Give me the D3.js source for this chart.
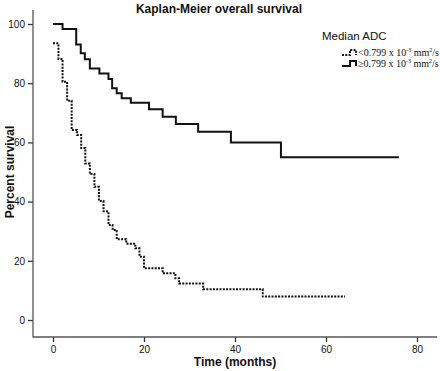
<!DOCTYPE html>
<html>
<head>
<meta charset="utf-8">
<script src="https://cdn.jsdelivr.net/npm/d3@7"></script>
<style>
  body { margin: 0; background: #fff; }
  text { font-family: "Liberation Sans", Arial, sans-serif; fill: #111; }
  .serif { font-family: "Liberation Serif", "Times New Roman", serif; }
</style>
</head>
<body>
<div id="chart"></div>
<script>
// survival steps (months, percent)
const lowTimes  = [0, 1.2, 2.1, 3.1, 4.1, 5.3, 6.2, 7.1, 8.1, 9.1, 10.1, 11.1, 12.2, 13.1, 14.0, 16.1, 18.1, 19.0, 20.0, 24.1, 26.9, 27.7, 33.0, 46.1];
const lowValues = [93.5, 88.2, 80.5, 74.1, 64.2, 62.5, 58.1, 52.9, 49.3, 45.0, 40.2, 36.7, 32.1, 30.4, 27.3, 25.8, 24.2, 21.4, 17.5, 15.8, 14.1, 12.3, 10.4, 7.9];
const lowEnd = 64.2;

const highTimes  = [0, 2.1, 5.1, 6.1, 7.0, 8.1, 10.2, 12.2, 13.0, 14.0, 15.1, 17.1, 21.1, 24.1, 27.0, 31.9, 39.1, 50.1];
const highValues = [100, 98.3, 93.1, 90.1, 88.1, 85.0, 83.3, 81.4, 78.3, 76.6, 74.9, 73.4, 71.2, 68.7, 66.2, 63.6, 60.0, 55.0];
const highEnd = 76;

const xTicks = [0, 20, 40, 60, 80];
const yTicks = [0, 20, 40, 60, 80, 100];

const width = 440, height = 371;

const svg = d3.select('#chart').append('svg')
    .attr('width', width)
    .attr('height', height);

const x = d3.scaleLinear().domain([0, 80]).range([53, 417]);
const y = d3.scaleLinear().domain([0, 100]).range([320, 24]);

const axisX0 = 33, axisY0 = 337;

// axes
const gx = svg.append('g')
    .attr('transform', `translate(0,${axisY0})`)
    .call(d3.axisBottom(x).tickValues(xTicks).tickSize(5).tickPadding(4));
gx.select('.domain').remove();
gx.selectAll('text').style('font-size', '10px');

const gy = svg.append('g')
    .attr('transform', `translate(${axisX0},0)`)
    .call(d3.axisLeft(y).tickValues(yTicks).tickSize(5).tickPadding(3));
gy.select('.domain').remove();
gy.selectAll('text').style('font-size', '10px');

svg.selectAll('.tick line').attr('stroke', '#333').attr('stroke-width', 1.3);

svg.append('path')
    .attr('d', `M${axisX0},10 V${axisY0} H437`)
    .attr('fill', 'none')
    .attr('stroke', '#555')
    .attr('stroke-width', 1.3);

// step curves
function stepPath(times, values, end) {
    let pts = times.map((t, i) => [t, values[i]]);
    pts.push([end, values[values.length - 1]]);
    return d3.line()
        .x(d => x(d[0]))
        .y(d => y(d[1]))
        .curve(d3.curveStepAfter)(pts);
}

svg.append('path')
    .attr('d', stepPath(highTimes, highValues, highEnd))
    .attr('fill', 'none')
    .attr('stroke', '#111')
    .attr('stroke-width', 2);

svg.append('path')
    .attr('d', stepPath(lowTimes, lowValues, lowEnd))
    .attr('fill', 'none')
    .attr('stroke', '#111')
    .attr('stroke-width', 2)
    .attr('stroke-dasharray', '2,1.3');

// titles
svg.append('text')
    .attr('x', 219).attr('y', 13)
    .attr('text-anchor', 'middle')
    .style('font-size', '12px').style('font-weight', 'bold')
    .text('Kaplan-Meier overall survival');

svg.append('text')
    .attr('x', 235).attr('y', 366)
    .attr('text-anchor', 'middle')
    .style('font-size', '12px').style('font-weight', 'bold')
    .text('Time (months)');

svg.append('text')
    .attr('transform', 'translate(14,172) rotate(-90)')
    .attr('text-anchor', 'middle')
    .style('font-size', '12px').style('font-weight', 'bold')
    .text('Percent survival');

// legend
const legend = svg.append('g');
legend.append('text')
    .attr('x', 322).attr('y', 40)
    .style('font-size', '11.5px')
    .text('Median ADC');

const rows = [
    { dash: '2,1.3', label: '<0.799 x 10', y: 56 },
    { dash: null, label: '\u22650.799 x 10', y: 67 }
];
rows.forEach(r => {
    legend.append('path')
        .attr('d', `M342,${r.y - 1} H350 V${r.y - 6} H356 V${r.y - 1}`)
        .attr('fill', 'none')
        .attr('stroke', '#111')
        .attr('stroke-width', 2)
        .attr('stroke-dasharray', r.dash);
    const t = legend.append('text')
        .attr('class', 'serif')
        .attr('x', 358).attr('y', r.y)
        .style('font-size', '10px');
    t.append('tspan').text(r.label);
    t.append('tspan').attr('dy', -4).style('font-size', '6px').text('-3');
    t.append('tspan').attr('dy', 4).text(' mm');
    t.append('tspan').attr('dy', -4).style('font-size', '6px').text('2');
    t.append('tspan').attr('dy', 4).text('/s');
});
</script>
</body>
</html>
